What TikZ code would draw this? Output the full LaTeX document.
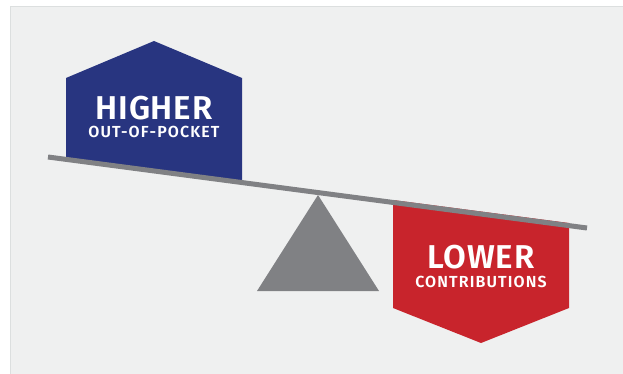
\documentclass[tikz,border=0pt]{standalone}
\usepackage{fontspec}
\setmainfont{Fira Sans}
\newfontfamily\bigfont{Fira Sans}[UprightFont=* SemiBold,LetterSpace=2.5]
\newfontfamily\smallfont{Fira Sans}[UprightFont=* SemiBold,LetterSpace=7]
\definecolor{bgc}{HTML}{EFF0F0}
\definecolor{bordc}{HTML}{DCDFDF}
\definecolor{bluec}{HTML}{283580}
\definecolor{redc}{HTML}{C8242C}
\definecolor{grayc}{HTML}{808184}
\begin{document}
\begin{tikzpicture}[x=1pt,y=-1pt,
  bigtxt/.style={text=white,font=\bigfont\fontsize{33}{33}\selectfont,inner sep=0pt,anchor=base,text height=23pt,text depth=0pt},
  smalltxt/.style={text=white,font=\smallfont\fontsize{16}{16}\selectfont,inner sep=0pt,anchor=base,text height=11pt,text depth=0pt}]
\useasboundingbox (0,0) rectangle (623,374);
\fill[white] (0,0) rectangle (623,374);
\fill[bgc] (10,6) rectangle (623,374);
\draw[bordc,line width=1pt] (10.5,374) -- (10.5,6.5) -- (623,6.5);
% fulcrum
\coordinate (apex) at (318,195);
\fill[grayc] (apex) -- (379,291) -- (257,291) -- cycle;
% blue weight
\fill[bluec] (66,158) -- (66,78) -- (154,41) -- (242,78) -- (242,181) -- cycle;
% red weight
\fill[redc] (393,200) -- (569,223) -- (569,308) -- (481,343) -- (393,308) -- cycle;
% beam
\coordinate (bl) at (48,157);
\coordinate (br) at (587,228);
\draw[grayc,line width=5pt] (bl) -- (br);
% texts
\node[bigtxt] (h) at (154,120) {HIGHER};
\node[smalltxt] (o) at (154,138) {OUT-OF-POCKET};
\node[bigtxt] (l) at (481,268) {LOWER};
\node[smalltxt] (c) at (481,287) {CONTRIBUTIONS};
\end{tikzpicture}
\end{document}
